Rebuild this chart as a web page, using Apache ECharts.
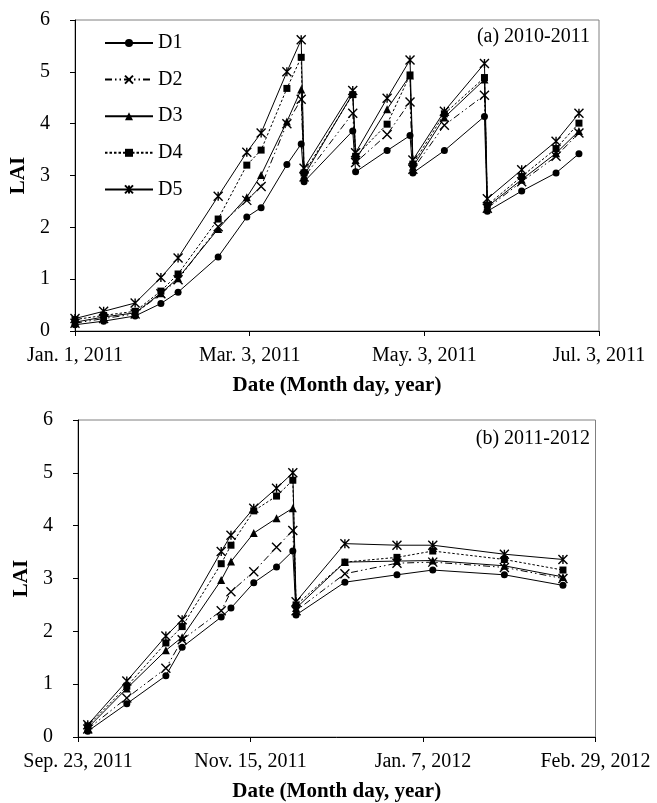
<!DOCTYPE html>
<html>
<head>
<meta charset="utf-8">
<script src="https://cdn.jsdelivr.net/npm/echarts@6/dist/echarts.min.js"></script>
<style>
html,body{margin:0;padding:0;background:#fff;}
#chart{width:657px;height:803px;}
</style>
</head>
<body>
<div id="chart"></div>
<script>
// ---- Panel (a) 2010-2011: days since Jan. 1, 2011 ----
var daysA = [0, 10, 21, 30, 36, 50, 60, 65, 74, 79, 80, 97, 98, 109, 117, 118, 129, 143, 144, 156, 168, 176];
var a_D1 = [0.12, 0.19, 0.29, 0.53, 0.75, 1.43, 2.20, 2.38, 3.21, 3.61, 2.88, 3.86, 3.07, 3.48, 3.77, 3.05, 3.48, 4.14, 2.31, 2.70, 3.05, 3.42];
var a_D2 = [0.15, 0.24, 0.33, 0.72, 0.99, 2.01, 2.52, 2.79, 4.00, 4.47, 2.97, 4.20, 3.25, 3.79, 4.42, 3.12, 3.97, 4.55, 2.37, 2.88, 3.37, 3.82];
var a_D3 = [0.17, 0.27, 0.35, 0.73, 1.02, 1.97, 2.58, 3.01, 4.04, 4.66, 3.00, 4.58, 3.30, 4.28, 4.93, 3.17, 4.12, 4.85, 2.40, 2.92, 3.43, 3.86];
var a_D4 = [0.22, 0.30, 0.38, 0.77, 1.10, 2.16, 3.20, 3.49, 4.68, 5.28, 3.05, 4.56, 3.37, 3.99, 4.94, 3.22, 4.19, 4.89, 2.43, 2.98, 3.52, 4.01];
var a_D5 = [0.24, 0.38, 0.54, 1.03, 1.41, 2.60, 3.45, 3.82, 5.00, 5.62, 3.14, 4.64, 3.44, 4.49, 5.23, 3.30, 4.24, 5.16, 2.55, 3.11, 3.66, 4.20];
var ticksA = ['Jan. 1, 2011', 'Mar. 3, 2011', 'May. 3, 2011', 'Jul. 3, 2011'];
var stepA = 61;

// ---- Panel (b) 2011-2012: days since Sep. 23, 2011 ----
var daysB = [3, 15, 27, 32, 44, 47, 54, 61, 66, 67, 82, 98, 109, 131, 149];
var b_D1 = [0.11, 0.63, 1.16, 1.70, 2.27, 2.44, 2.92, 3.22, 3.52, 2.31, 2.93, 3.07, 3.16, 3.07, 2.87];
var b_D2 = [0.15, 0.74, 1.30, 1.84, 2.39, 2.75, 3.13, 3.59, 3.91, 2.39, 3.09, 3.29, 3.31, 3.21, 3.00];
var b_D3 = [0.17, 0.92, 1.64, 1.89, 2.97, 3.32, 3.86, 4.14, 4.33, 2.44, 3.31, 3.33, 3.34, 3.24, 3.03];
var b_D4 = [0.21, 0.96, 1.78, 2.09, 3.28, 3.63, 4.28, 4.56, 4.86, 2.50, 3.31, 3.40, 3.52, 3.36, 3.16];
var b_D5 = [0.23, 1.06, 1.91, 2.22, 3.51, 3.82, 4.33, 4.71, 5.00, 2.56, 3.66, 3.63, 3.63, 3.46, 3.36];
var ticksB = ['Sep. 23, 2011', 'Nov. 15, 2011', 'Jan. 7, 2012', 'Feb. 29, 2012'];
var stepB = 53;

var names = ['D1', 'D2', 'D3', 'D4', 'D5'];
var yTicks = [0, 6, 1]; // min, max, interval

var FONT = 'Liberation Serif';
var styles = {
  D1: {symbol: 'circle', size: 7, line: 'solid', stroke: 0},
  D2: {symbol: 'path://M0,0L10,10M10,0L0,10', size: 9, line: [7, 3, 1.5, 3, 1.5, 3], stroke: 1.4},
  D3: {symbol: 'triangle', size: 8, line: 'solid', stroke: 0},
  D4: {symbol: 'rect', size: 7, line: [2.5, 2], stroke: 0},
  D5: {symbol: 'path://M0,0L10,10M10,0L0,10M5,0L5,10', size: 9, line: 'solid', stroke: 1.4}
};

function pairs(xs, ys) { return xs.map(function (x, i) { return [x, ys[i]]; }); }

function mkSeries(name, xs, ys, idx) {
  var s = styles[name];
  return {
    name: name, type: 'line', xAxisIndex: idx, yAxisIndex: idx,
    data: pairs(xs, ys),
    symbol: s.symbol, symbolSize: s.size, showAllSymbol: true,
    lineStyle: {color: '#000', width: 1, type: s.line},
    itemStyle: {color: '#000', borderColor: '#000', borderWidth: s.stroke},
    emphasis: {disabled: true},
    z: 3
  };
}

function xAxis(idx, max, step, labels) {
  return {
    gridIndex: idx, type: 'value', min: 0, max: max, interval: step,
    name: 'Date (Month day, year)', nameLocation: 'middle', nameGap: 44,
    nameTextStyle: {fontFamily: FONT, fontWeight: 'bold', fontSize: 21, color: '#000'},
    axisLine: {show: true, lineStyle: {color: '#000', width: 1}},
    axisTick: {show: true, inside: false, length: 5, lineStyle: {color: '#000'}},
    axisLabel: {fontFamily: FONT, fontSize: 20, color: '#000', margin: 15,
      showMinLabel: true, showMaxLabel: true,
      formatter: function (v) { return labels[Math.round(v / step)] || ''; }},
    splitLine: {show: false}
  };
}

function yAxis(idx) {
  return {
    gridIndex: idx, type: 'value', min: yTicks[0], max: yTicks[1], interval: yTicks[2],
    name: 'LAI', nameLocation: 'middle', nameGap: 37, nameRotate: 90,
    nameTextStyle: {fontFamily: FONT, fontWeight: 'bold', fontSize: 21, color: '#000'},
    axisLine: {show: true, lineStyle: {color: '#000', width: 1}},
    axisTick: {show: true, inside: false, length: 5, lineStyle: {color: '#000'}},
    axisLabel: {fontFamily: FONT, fontSize: 20, color: '#000', margin: 25},
    splitLine: {show: false}
  };
}

var series = [];
var aData = [a_D1, a_D2, a_D3, a_D4, a_D5];
var bData = [b_D1, b_D2, b_D3, b_D4, b_D5];
names.forEach(function (n, i) { series.push(mkSeries(n, daysA, aData[i], 0)); });
names.forEach(function (n, i) { series.push(mkSeries(n, daysB, bData[i], 1)); });

var chart = echarts.init(document.getElementById('chart'), null, {renderer: 'canvas'});
chart.setOption({
  animation: false,
  backgroundColor: '#fff',
  textStyle: {fontFamily: FONT},
  grid: [
    {left: 75, top: 20, width: 524, height: 311, show: true, borderColor: '#808080', borderWidth: 1, backgroundColor: 'transparent'},
    {left: 78, top: 420, width: 517.5, height: 317, show: true, borderColor: '#808080', borderWidth: 1, backgroundColor: 'transparent'}
  ],
  xAxis: [xAxis(0, 183, stepA, ticksA), xAxis(1, 159, stepB, ticksB)],
  yAxis: [yAxis(0), yAxis(1)],
  legend: {
    data: names, orient: 'vertical', left: 104, top: 33, padding: 0,
    itemWidth: 48, itemHeight: 10, itemGap: 16.6,
    textStyle: {fontFamily: FONT, fontSize: 20, color: '#000', lineHeight: 20},
    selectedMode: false
  },
  graphic: [
    {type: 'text', x: 590, y: 37, style: {text: '(a) 2010-2011', font: '20px "Liberation Serif"', fill: '#000', align: 'right', verticalAlign: 'middle'}},
    {type: 'text', x: 590, y: 439, style: {text: '(b) 2011-2012', font: '20px "Liberation Serif"', fill: '#000', align: 'right', verticalAlign: 'middle'}}
  ],
  series: series
});
</script>
</body>
</html>
